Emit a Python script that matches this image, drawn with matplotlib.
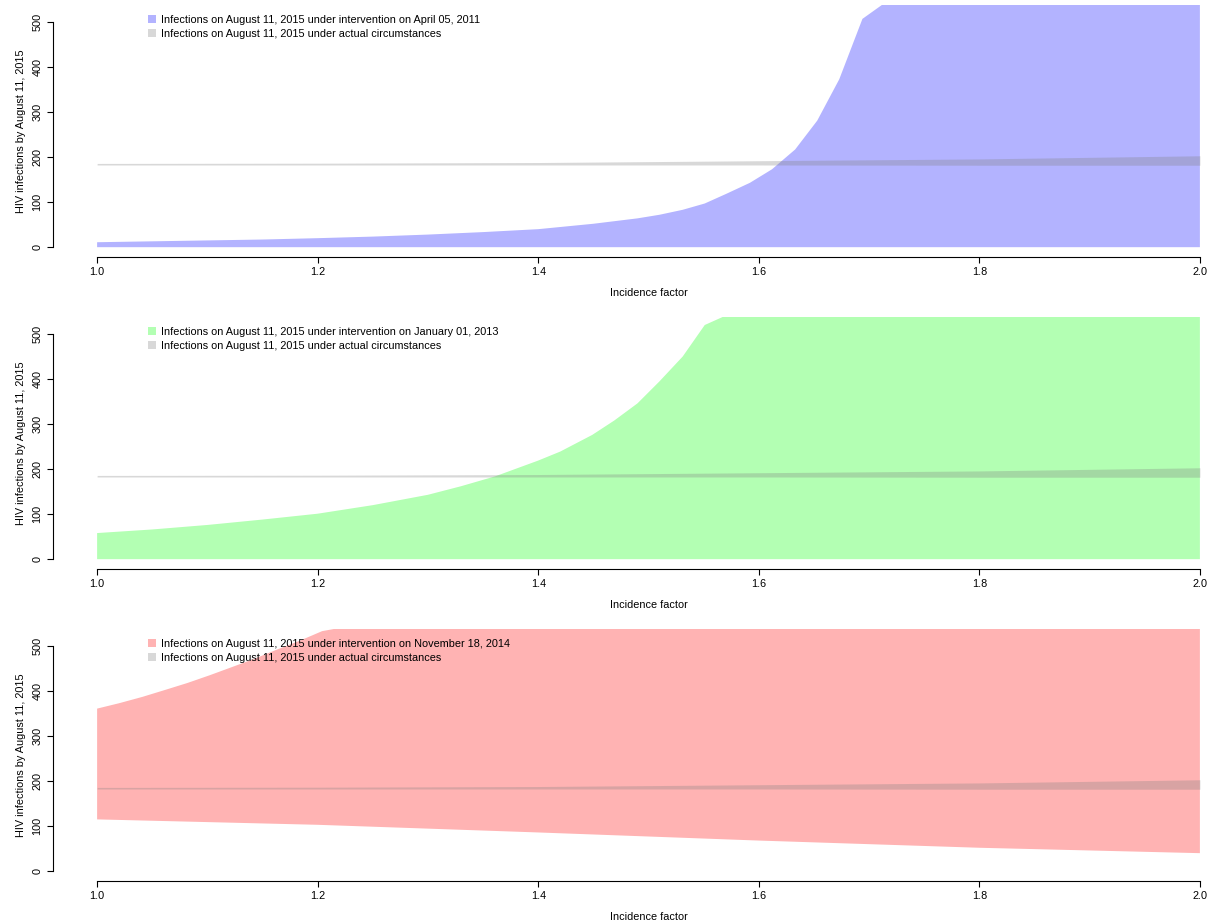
import matplotlib
matplotlib.use("Agg")
import matplotlib.pyplot as plt
from matplotlib.patches import Patch

plt.rcParams["font.family"] = ["Liberation Sans", "DejaVu Sans"]
plt.rcParams["font.size"] = 7.8

# --- data ---
# intervention on April 05, 2011 (lower edge is 0)
x_april = [1.0, 1.05, 1.1, 1.15, 1.2, 1.25, 1.3, 1.35, 1.4, 1.45, 1.49,
           1.51, 1.531, 1.551, 1.571, 1.592, 1.612, 1.633, 1.653, 1.673,
           1.694, 1.714, 1.735, 2.0]
y_april = [11, 13, 15, 17, 20, 23.5, 28, 33.5, 40, 52, 64,
           72, 83, 97, 119, 143, 173, 217, 281, 373,
           507, 542, 900, 2500]

# intervention on January 01, 2013 (lower edge is 0)
x_january = [1.0, 1.05, 1.1, 1.15, 1.2, 1.25, 1.3, 1.33, 1.361, 1.4, 1.42,
             1.449, 1.469, 1.49, 1.51, 1.531, 1.551, 1.571, 1.592, 2.0]
y_january = [58, 66, 76, 88, 101, 120, 143, 162, 184, 219, 239,
             276, 308, 346, 395, 450, 520, 542, 700, 2500]

# intervention on November 18, 2014 (band)
x_nov_hi = [1.0, 1.02, 1.041, 1.061, 1.082, 1.102, 1.122, 1.143, 1.163,
            1.184, 1.204, 1.224, 1.245, 2.0]
y_nov_hi = [361, 373, 387, 402, 418, 435, 453, 472, 492,
            512, 533, 542, 600, 1500]
x_nov_lo = [1.0, 1.2, 1.4, 1.6, 1.8, 2.0]
y_nov_lo = [115, 103, 86, 68, 52, 40]

# actual circumstances (band)
x_actual = [1.0, 1.2, 1.4, 1.6, 1.8, 2.0]
y_actual_lo = [182.5, 182.5, 182.5, 182.5, 182, 182]
y_actual_hi = [186, 186.5, 188, 192, 196, 203]

x_ticks = [1.0, 1.2, 1.4, 1.6, 1.8, 2.0]
y_ticks = [0, 100, 200, 300, 400, 500]

panels = [
    ("April 05, 2011", "#b3b3ff"),
    ("January 01, 2013", "#b3ffb3"),
    ("November 18, 2014", "#ffb3b3"),
]

W, H = 1212, 924
fig = plt.figure(figsize=(W / 100, H / 100), dpi=100)

# pixel geometry of each plot region (left, right, top, bottom)
left_px, right_px = 53, 1244
tops = [5, 317, 629]
height_px = 251.5

gray_band = (0.5, 0.5, 0.5, 0.3)

for i, (date, color) in enumerate(panels):
    top = tops[i]
    ax = fig.add_axes([left_px / W, 1 - (top + height_px) / H,
                       (right_px - left_px) / W, height_px / H])

    if i == 0:
        ax.fill_between(x_april, 0, y_april, color=color, lw=0)
    elif i == 1:
        ax.fill_between(x_january, 0, y_january, color=color, lw=0)
    else:
        ax.fill(x_nov_hi + x_nov_lo[::-1], y_nov_hi + y_nov_lo[::-1],
                color=color, lw=0)

    ax.fill_between(x_actual, y_actual_lo, y_actual_hi, color=gray_band, lw=0)

    ax.set_xlim(0.96, 2.04)
    ax.set_ylim(-20.7, 537.8)

    for side in ("top", "right"):
        ax.spines[side].set_visible(False)
    ax.spines["left"].set_bounds(0, 500)
    ax.spines["bottom"].set_bounds(1.0, 2.0)
    for side in ("left", "bottom"):
        ax.spines[side].set_linewidth(0.8)

    ax.set_xticks(x_ticks)
    ax.set_xticklabels([f"{t:.1f}" for t in x_ticks])
    ax.set_yticks(y_ticks)
    ax.set_yticklabels([str(t) for t in y_ticks], rotation=90, va="center")
    ax.tick_params(length=4, width=0.8, pad=3.5, labelsize=7.8)

    ax.set_xlabel("Incidence factor", labelpad=8)
    ax.set_ylabel("HIV infections by August 11, 2015", labelpad=5)

    handles = [
        Patch(facecolor=color, lw=0),
        Patch(facecolor=gray_band, lw=0),
    ]
    labels = [
        f"Infections on August 11, 2015 under intervention on {date}",
        "Infections on August 11, 2015 under actual circumstances",
    ]
    ax.legend(handles, labels, loc="upper left",
              bbox_to_anchor=((148 - left_px) / (right_px - left_px), 0.962),
              frameon=False, borderpad=0, borderaxespad=0,
              handlelength=0.75, handleheight=0.75, handletextpad=0.45,
              labelspacing=0.4, fontsize=7.8)

fig.savefig("out.png", dpi=100)
